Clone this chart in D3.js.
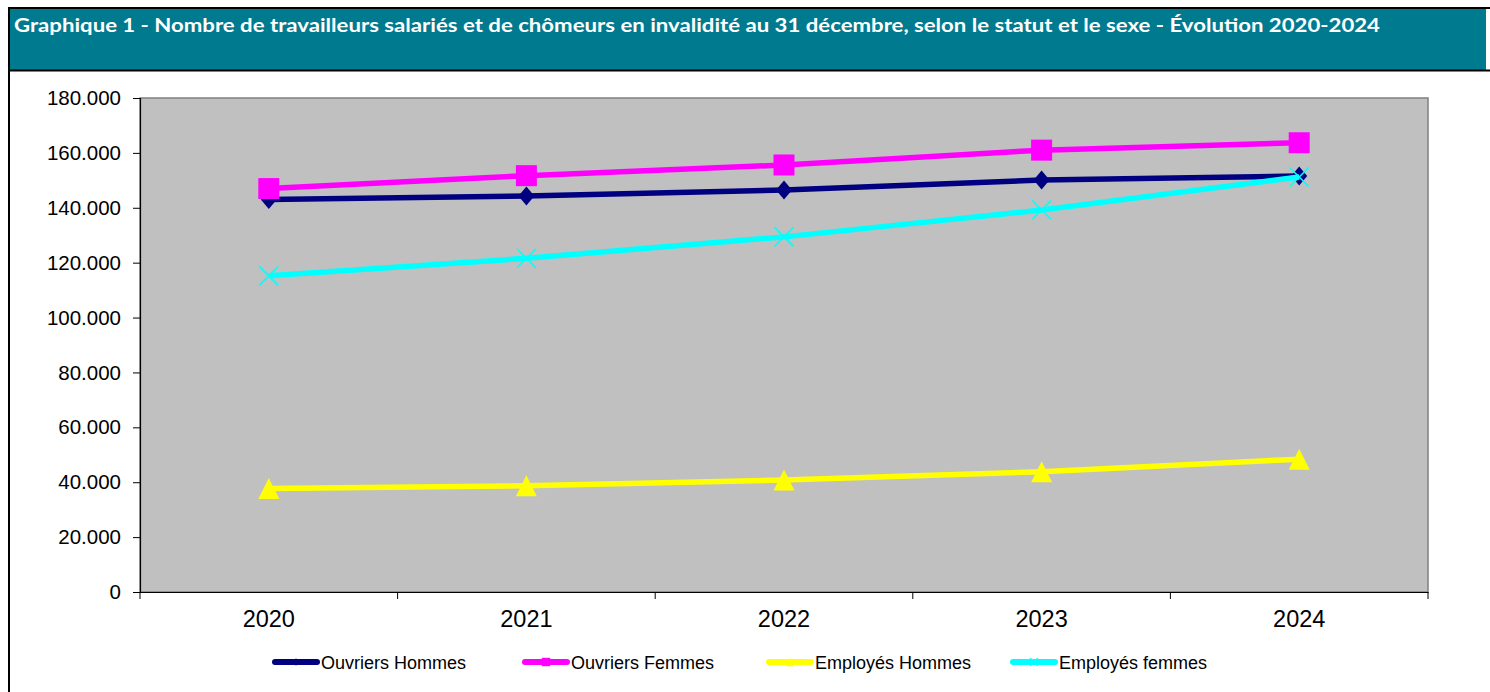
<!DOCTYPE html>
<html><head><meta charset="utf-8">
<script src="https://cdn.jsdelivr.net/npm/d3@7"></script>
<style>body{margin:0;background:#fff}svg{display:block}</style>
</head><body>
<svg id="c" width="1490" height="692"></svg>
<script>
const title = "Graphique 1 - Nombre de travailleurs salariés et de chômeurs en invalidité au 31 décembre, selon le statut et le sexe - Évolution 2020-2024";
const years = ["2020","2021","2022","2023","2024"];
const ouvriersHommes = [143000, 144300, 146500, 150100, 151600];
const ouvriersFemmes = [147000, 151700, 155600, 161000, 163700];
const employesHommes = [37700, 38700, 40800, 43800, 48400];
const employesFemmes = [115200, 121600, 129400, 139200, 151200];
const seriesNames = ["Ouvriers Hommes","Ouvriers Femmes","Employés Hommes","Employés femmes"];
const yTicks = [0,20000,40000,60000,80000,100000,120000,140000,160000,180000];

const seriesList = [
  {name: seriesNames[0], values: ouvriersHommes, color:"#000080", marker:"diamond"},
  {name: seriesNames[1], values: ouvriersFemmes, color:"#FF00FF", marker:"square"},
  {name: seriesNames[2], values: employesHommes, color:"#FFFF00", marker:"triangle"},
  {name: seriesNames[3], values: employesFemmes, color:"#00FFFF", marker:"cross"}
];

const svg = d3.select("#c");
const font = "'Liberation Sans', Arial, sans-serif";

// title bar
svg.append("rect").attr("x",9).attr("y",8).attr("width",1477).attr("height",62).attr("fill","#007A8F");
svg.append("line").attr("x1",8).attr("x2",1490).attr("y1",8).attr("y2",8).attr("stroke","#000").attr("stroke-width",2);
svg.append("line").attr("x1",8).attr("x2",1490).attr("y1",70.5).attr("y2",70.5).attr("stroke","#000").attr("stroke-width",2);
svg.append("line").attr("x1",9).attr("x2",9).attr("y1",7).attr("y2",692).attr("stroke","#000").attr("stroke-width",2);
svg.append("text").attr("x",14).attr("y",31.5).text(title)
  .attr("fill","#fff").attr("font-family","Lato, 'Open Sans', sans-serif").attr("font-weight","bold")
  .attr("font-size",18.5).attr("textLength",1366).attr("lengthAdjust","spacingAndGlyphs");

const L = 140, R = 1428, T = 98, B = 592;
const x = d3.scaleBand().domain(years).range([L,R]).padding(0);
const y = d3.scaleLinear().domain([0,180000]).range([B,T]);
const cx = d => x(d) + x.bandwidth()/2;

// plot area
svg.append("rect").attr("x",L).attr("y",T).attr("width",R-L).attr("height",B-T)
  .attr("fill","#C0C0C0").attr("stroke","#808080").attr("stroke-width",1.5);

const loc = d3.formatLocale({decimal:",", thousands:".", grouping:[3], currency:["","€"]});
const fmt = loc.format(",d");

// y axis
const ya = svg.append("g").attr("transform",`translate(${L},0)`)
  .call(d3.axisLeft(y).tickValues(yTicks).tickFormat(fmt).tickSize(7).tickPadding(12));
ya.select(".domain").attr("stroke","#000").attr("stroke-width",1.2);
ya.selectAll(".tick line").attr("stroke","#000");
ya.selectAll("text").attr("font-family",font).attr("font-size",20.5).attr("fill","#000");

// x axis
const xa = svg.append("g").attr("transform",`translate(0,${B})`)
  .call(d3.axisBottom(x).tickSize(0).tickPadding(18));
xa.select(".domain").attr("stroke","#000").attr("stroke-width",1.2);
xa.selectAll("text").attr("font-family",font).attr("font-size",23.5).attr("fill","#000");
const edges = years.map(d => x(d)).concat([R]);
svg.append("g").selectAll("line").data(edges).join("line")
  .attr("x1",d=>d).attr("x2",d=>d).attr("y1",B).attr("y2",B+7).attr("stroke","#000").attr("stroke-width",1);

function drawMarker(g, type, color, px, py, s) {
  if (type==="diamond") {
    const w = 8*s, h = 9.5*s;
    g.append("path").attr("d",`M${px},${py-h}L${px+w},${py}L${px},${py+h}L${px-w},${py}Z`).attr("fill",color);
  } else if (type==="square") {
    const h = 10.5*s;
    g.append("rect").attr("x",px-h).attr("y",py-h).attr("width",2*h).attr("height",2*h).attr("fill",color);
  } else if (type==="triangle") {
    const w = 10.5*s;
    g.append("path").attr("d",`M${px},${py-10.5*s}L${px+w},${py+10.5*s}L${px-w},${py+10.5*s}Z`).attr("fill",color);
  } else {
    const h = 9.5*s;
    g.append("path").attr("d",`M${px-h},${py-h}L${px+h},${py+h}M${px+h},${py-h}L${px-h},${py+h}`)
      .attr("stroke",color).attr("stroke-width",1.6).attr("fill","none");
  }
}

const line = d3.line().x((d,i)=>cx(years[i])).y(d=>y(d));
seriesList.forEach(s => {
  const g = svg.append("g");
  g.append("path").datum(s.values).attr("d",line).attr("fill","none")
    .attr("stroke",s.color).attr("stroke-width",5.5).attr("stroke-linejoin","round");
  s.values.forEach((v,i) => drawMarker(g, s.marker, s.color, cx(years[i]), y(v), 1));
});

// legend
const legX = [273, 523, 767, 1011];
const legY = 662;
seriesList.forEach((s,i) => {
  const g = svg.append("g");
  g.append("line").attr("x1",legX[i]+2).attr("x2",legX[i]+44).attr("y1",legY).attr("y2",legY)
    .attr("stroke",s.color).attr("stroke-width",6).attr("stroke-linecap","round");
  drawMarker(g, s.marker, s.color, legX[i]+23, legY, 0.4);
  g.append("text").attr("x",legX[i]+48).attr("y",legY+6.5).text(s.name)
    .attr("font-family",font).attr("font-size",18).attr("fill","#000");
});
</script>
</body></html>
